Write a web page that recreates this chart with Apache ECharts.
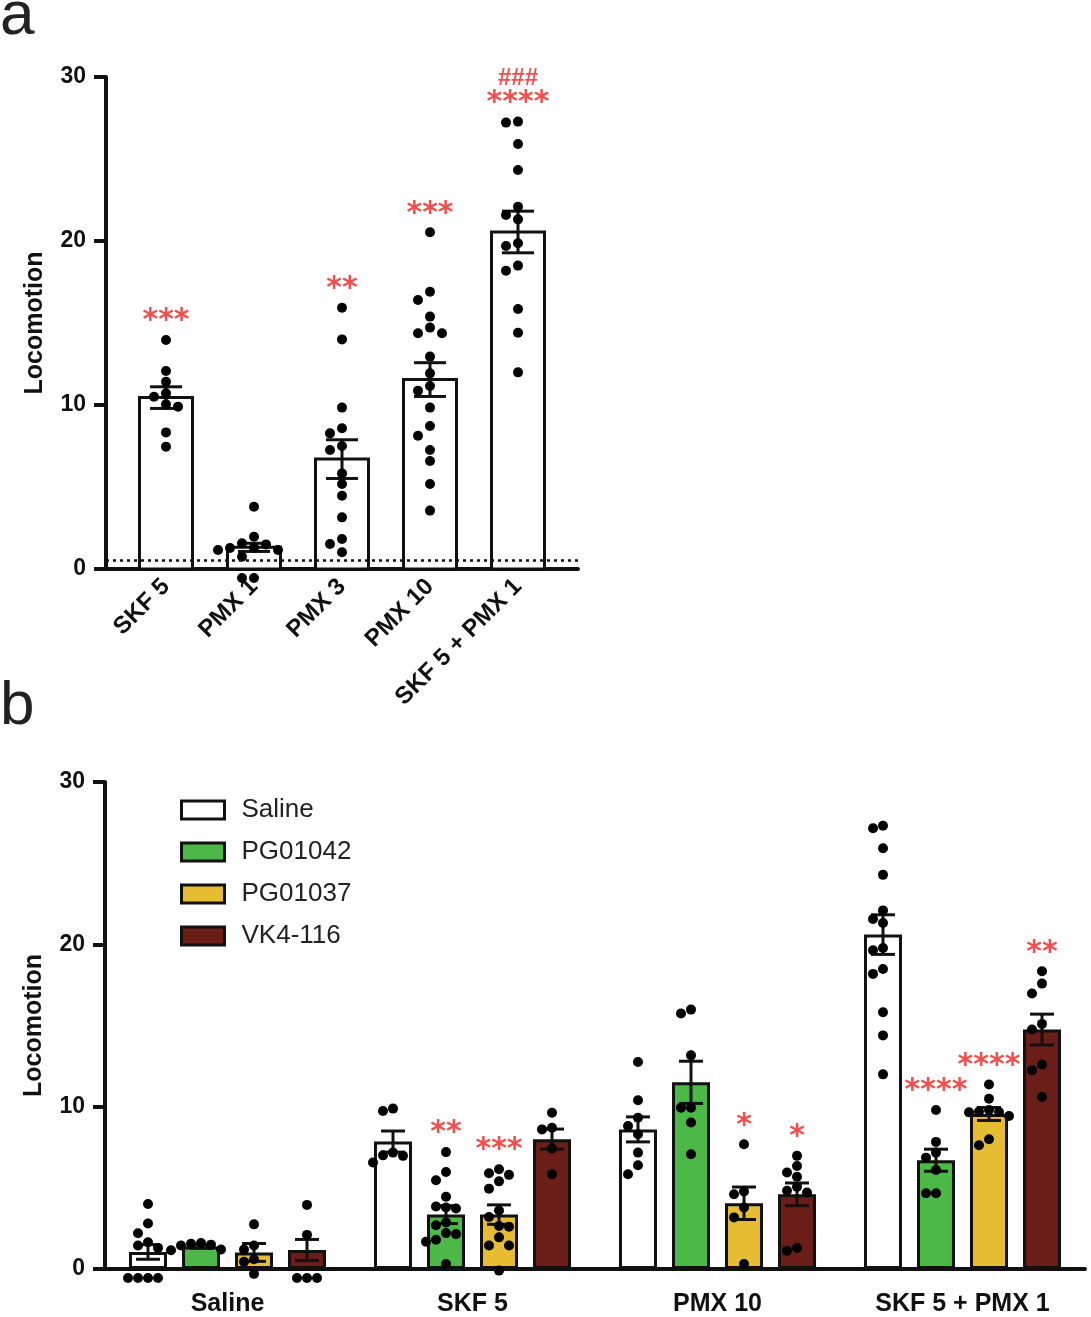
<!DOCTYPE html>
<html>
<head>
<meta charset="utf-8">
<title>Locomotion</title>
<script src="https://cdn.jsdelivr.net/npm/echarts@6/dist/echarts.min.js"></script>
<style>
  html, body { margin: 0; padding: 0; background: #fff; }
  #main { width: 1091px; height: 1317px; }
</style>
</head>
<body>
<div id="main"></div>
<script>
  // ---- panel a ----
  const catsA = ['SKF 5', 'PMX 1', 'PMX 3', 'PMX 10', 'SKF 5 + PMX 1']
  const meanA = [10.45, 1.32, 6.7, 11.55, 20.55]
  const semA = [0.66, 0.25, 1.18, 1.03, 1.27]
  const dotsSkf5 = [13.96, 12.07, 11.42, 10.71, 10.5, 10.04, 9.9, 8.33, 7.46]
  const dotsPmx1 = [3.8, 1.97, 1.57, 1.5, 1.3, 1.28, 1.16, 1.16, 0.75, -0.55, -0.55]
  const dotsPmx3 = [15.93, 14.0, 9.84, 8.58, 8.27, 7.5, 7.26, 5.83, 5.18, 4.47, 3.15, 1.83, 1.52, 1.02]
  const dotsPmx10 = [20.53, 16.91, 16.4, 15.39, 14.72, 14.37, 14.37, 12.95, 11.93, 11.16, 10.87, 9.84, 8.72, 8.13, 7.26, 6.59, 5.18, 3.56]
  const dotsSkfPmx = [27.28, 27.22, 25.91, 24.33, 22.09, 21.59, 21.32, 19.86, 19.7, 18.5, 18.19, 15.85, 14.41, 11.99]
  const sigA = ['***', '', '**', '***', '****']
  const hashA = ['', '', '', '', '###']
  const baselineA = 0.55 // dotted reference line

  // ---- panel b ----
  const catsB = ['Saline', 'SKF 5', 'PMX 10', 'SKF 5 + PMX 1']
  const groupsB = ['Saline', 'PG01042', 'PG01037', 'VK4-116']
  const meanSaline = [1.05, 7.85, 8.6, 20.6]
  const meanPG01042 = [1.38, 3.35, 11.5, 6.7]
  const meanPG01037 = [1.02, 3.35, 4.05, 9.55]
  const meanVK4116 = [1.17, 8.0, 4.6, 14.75]
  const semSaline = [0.45, 0.65, 0.77, 1.22]
  const semPG01042 = [0.1, 0.55, 1.3, 0.68]
  const semPG01037 = [0.55, 0.6, 1.0, 0.4]
  const semVK4116 = [0.65, 0.62, 0.7, 0.95]
  const dotsSaline = [
    [4.0, 2.8, 2.2, 1.65, 1.45, 1.3, -0.55, -0.55, -0.55, -0.55],
    [9.88, 9.73, 7.17, 7.0, 6.97, 6.56],
    [12.75, 10.39, 9.32, 8.81, 8.3, 7.17, 6.39, 5.84],
    [27.3, 27.15, 25.92, 24.28, 22.09, 21.56, 21.31, 19.77, 19.63, 18.48, 18.18, 15.82, 14.39, 11.99]
  ]
  const dotsPG01042 = [
    [1.6, 1.55, 1.5, 1.45, 1.2, 1.15],
    [7.2, 5.98, 5.47, 4.45, 3.85, 3.79, 3.73, 2.87, 2.7, 2.21, 2.15, 1.8, 1.68, 0.31],
    [15.98, 15.74, 13.16, 9.94, 9.94, 9.02, 7.07],
    [9.8, 7.83, 7.17, 6.86, 6.1, 4.67, 4.67]
  ]
  const dotsPG01037 = [
    [2.75, 1.45, 1.2, 0.6, 0.45, -0.3],
    [6.15, 5.9, 5.8, 5.4, 4.95, 3.6, 3.2, 2.65, 2.6, 1.95, 1.45, 1.45, -0.1],
    [7.68, 4.77, 4.61, 3.79, 3.18, 0.31],
    [11.37, 10.49, 9.8, 9.7, 9.67, 9.65, 9.43, 7.99, 7.62]
  ]
  const dotsVK4116 = [
    [3.95, 2.1, -0.55, -0.55, -0.55],
    [9.63, 8.7, 8.6, 7.42, 5.84],
    [6.97, 6.35, 5.94, 5.68, 5.06, 4.82, 4.71, 1.29, 1.13],
    [18.34, 17.58, 16.97, 15.1, 14.75, 12.6, 12.25, 10.59]
  ]
  const sigPG01042 = ['', '**', '', '****']
  const sigPG01037 = ['', '***', '*', '****']
  const sigVK4116 = ['', '', '*', '**']
  const colorsB = ['#ffffff', '#4cb848', '#e6bc33', '#6b1e17']

  // layout
  const font = 'Liberation Sans, Arial, sans-serif'
  const starFont = 'DejaVu Sans, Liberation Sans, sans-serif'
  const gridA = { left: 106, top: 77, width: 472, height: 492 }
  const gridB = { left: 105, top: 782, width: 980, height: 488 }
  const catPxA = 88
  const minA = -60 / catPxA
  const maxA = minA + gridA.width / catPxA
  const barWA = 53
  const barWB = 38
  const barStepB = 53
  const catPxB = gridB.width / catsB.length
  const red = '#f0201f'

  // simple beeswarm, returns horizontal offsets in px
  function swarm(vals, pxPerUnit, dot, step) {
    const order = vals.map((v, i) => i).sort((a, b) => vals[b] - vals[a])
    const placed = []
    const off = vals.map(() => 0)
    order.forEach(i => {
      const y = vals[i] * pxPerUnit
      for (let k = 0; k < 30; k++) {
        const cand = k === 0 ? 0 : (k % 2 ? -1 : 1) * Math.ceil(k / 2) * step
        if (placed.every(p => (p.x - cand) ** 2 + (p.y - y) ** 2 >= dot * dot)) {
          off[i] = cand
          placed.push({ x: cand, y })
          break
        }
      }
    })
    return off
  }

  const dotsA = [dotsSkf5, dotsPmx1, dotsPmx3, dotsPmx10, dotsSkfPmx]
  const scatterA = []
  dotsA.forEach((vals, i) => {
    const off = swarm(vals, gridA.height / 30, 10, 12)
    vals.forEach((v, j) => scatterA.push([i + off[j] / catPxA, v]))
  })

  const meansB = [meanSaline, meanPG01042, meanPG01037, meanVK4116]
  const semsB = [semSaline, semPG01042, semPG01037, semVK4116]
  const dotsB = [dotsSaline, dotsPG01042, dotsPG01037, dotsVK4116]
  const sigsB = [['', '', '', ''], sigPG01042, sigPG01037, sigVK4116]
  const scatterB = []
  const errB = []
  const sigB = []
  dotsB.forEach((groups, s) => {
    const shift = (s - 1.5) * barStepB / catPxB
    groups.forEach((vals, c) => {
      const off = swarm(vals, gridB.height / 30, 10, 10)
      vals.forEach((v, j) => scatterB.push([c + shift + off[j] / catPxB, v]))
      errB.push([c + shift, meansB[s][c], semsB[s][c]])
      if (sigsB[s][c]) sigB.push({ name: sigsB[s][c], value: [c + shift, Math.max(...vals)] })
    })
  })

  function errorBar(capHalf) {
    return function (params, api) {
      const x = api.value(0)
      const m = api.value(1)
      const s = api.value(2)
      const hi = api.coord([x, m + s])
      const lo = api.coord([x, m - s])
      const style = { stroke: '#111', lineWidth: 3 }
      return {
        type: 'group',
        children: [
          { type: 'line', shape: { x1: hi[0], y1: hi[1], x2: lo[0], y2: lo[1] }, style },
          { type: 'line', shape: { x1: hi[0] - capHalf, y1: hi[1], x2: hi[0] + capHalf, y2: hi[1] }, style },
          { type: 'line', shape: { x1: lo[0] - capHalf, y1: lo[1], x2: lo[0] + capHalf, y2: lo[1] }, style }
        ]
      }
    }
  }

  const yAxisBase = {
    type: 'value',
    min: 0,
    max: 30,
    interval: 10,
    name: 'Locomotion',
    nameLocation: 'middle',
    nameGap: 58,
    nameTextStyle: { fontSize: 25, fontWeight: 'bold', color: '#111', fontFamily: font },
    axisLine: { show: true, onZero: false, lineStyle: { color: '#111', width: 4 } },
    axisTick: { show: true, length: 12, lineStyle: { color: '#111', width: 4 } },
    axisLabel: { fontSize: 23, fontWeight: 'bold', color: '#111', fontFamily: font, margin: 20 },
    splitLine: { show: false }
  }

  const option = {
    animation: false,
    backgroundColor: '#fff',
    textStyle: { fontFamily: font },
    graphic: [
      { type: 'text', left: 0, top: -14, style: { text: 'a', fontSize: 62, fill: '#222', fontFamily: font } },
      { type: 'text', left: 0, top: 676, style: { text: 'b', fontSize: 62, fill: '#222', fontFamily: font } }
    ],
    legend: {
      data: groupsB,
      orient: 'vertical',
      left: 180,
      top: 797,
      icon: 'rect',
      itemWidth: 43,
      itemHeight: 18,
      itemGap: 16,
      padding: 0,
      itemStyle: { borderColor: '#111', borderWidth: 3 },
      textStyle: { fontSize: 26, color: '#222', fontFamily: font, padding: [0, 0, 0, 12] }
    },
    grid: [
      Object.assign({}, gridA),
      Object.assign({}, gridB)
    ],
    xAxis: [
      {
        type: 'value',
        gridIndex: 0,
        min: minA,
        max: maxA,
        axisLine: { show: true, onZero: false, lineStyle: { color: '#111', width: 4 } },
        axisTick: { show: false },
        splitLine: { show: false },
        axisLabel: {
          customValues: [0, 1, 2, 3, 4],
          formatter: v => catsA[Math.round(v)],
          rotate: 45,
          margin: 14,
          fontSize: 24,
          fontWeight: 'bold',
          color: '#111',
          fontFamily: font
        }
      },
      {
        type: 'category',
        gridIndex: 1,
        data: catsB,
        axisLine: { show: true, onZero: false, lineStyle: { color: '#111', width: 4 } },
        axisTick: { show: false },
        axisLabel: { fontSize: 25, fontWeight: 'bold', color: '#111', fontFamily: font, margin: 23 }
      },
      {
        type: 'value',
        gridIndex: 1,
        min: -0.5,
        max: catsB.length - 0.5,
        show: false
      }
    ],
    yAxis: [
      Object.assign({ gridIndex: 0 }, yAxisBase),
      Object.assign({ gridIndex: 1 }, yAxisBase)
    ],
    series: [
      {
        type: 'custom',
        xAxisIndex: 0,
        yAxisIndex: 0,
        data: meanA.map((m, i) => [i, m]),
        renderItem: (params, api) => {
          const top = api.coord([api.value(0), api.value(1)])
          const base = api.coord([api.value(0), 0])
          return {
            type: 'rect',
            shape: { x: top[0] - barWA / 2, y: top[1], width: barWA, height: base[1] - top[1] },
            style: { fill: '#fff', stroke: '#111', lineWidth: 3 }
          }
        },
        z: 2
      },
      {
        type: 'custom',
        xAxisIndex: 0,
        yAxisIndex: 0,
        data: meanA.map((m, i) => [i, m, semA[i]]),
        renderItem: errorBar(16),
        z: 3
      },
      {
        type: 'scatter',
        xAxisIndex: 0,
        yAxisIndex: 0,
        data: scatterA,
        symbolSize: 10,
        clip: false,
        itemStyle: { color: '#000', opacity: 1 },
        z: 4,
        markLine: {
          silent: true,
          symbol: 'none',
          label: { show: false },
          lineStyle: { type: [3, 4], color: '#111', width: 2.5 },
          data: [{ yAxis: baselineA }]
        }
      },
      {
        type: 'scatter',
        xAxisIndex: 0,
        yAxisIndex: 0,
        data: sigA.map((s, i) => ({ name: s, value: [i, Math.max(...dotsA[i])] })),
        symbolSize: 1,
        clip: false,
        itemStyle: { color: 'transparent' },
        label: {
          show: true,
          position: 'top',
          distance: 3,
          formatter: p => (hashA[p.dataIndex] ? '{h|' + hashA[p.dataIndex] + '}\n' : '') + '{s|' + p.name + '}',
          rich: {
            s: { fontSize: 30, fontWeight: 'bold', color: red, fontFamily: starFont, lineHeight: 30 },
            h: { fontSize: 24, fontWeight: 'bold', color: red, fontFamily: font, lineHeight: 20 }
          }
        },
        z: 5
      },
      ...groupsB.map((g, s) => ({
        name: g,
        type: 'bar',
        xAxisIndex: 1,
        yAxisIndex: 1,
        data: meansB[s],
        barWidth: barWB,
        barGap: ((barStepB - barWB) / barWB * 100).toFixed(1) + '%',
        itemStyle: { color: colorsB[s], borderColor: '#111', borderWidth: 3 },
        z: 2
      })),
      {
        type: 'custom',
        xAxisIndex: 2,
        yAxisIndex: 1,
        data: errB,
        renderItem: errorBar(12),
        z: 3
      },
      {
        type: 'scatter',
        xAxisIndex: 2,
        yAxisIndex: 1,
        data: scatterB,
        symbolSize: 10,
        clip: false,
        itemStyle: { color: '#000', opacity: 1 },
        z: 4
      },
      {
        type: 'scatter',
        xAxisIndex: 2,
        yAxisIndex: 1,
        data: sigB,
        symbolSize: 1,
        clip: false,
        itemStyle: { color: 'transparent' },
        label: {
          show: true,
          position: 'top',
          distance: 3,
          formatter: '{b}',
          fontSize: 30,
          fontWeight: 'bold',
          color: red,
          fontFamily: starFont
        },
        z: 5
      }
    ]
  }

  const chart = echarts.init(document.getElementById('main'))
  chart.setOption(option)
</script>
</body>
</html>
